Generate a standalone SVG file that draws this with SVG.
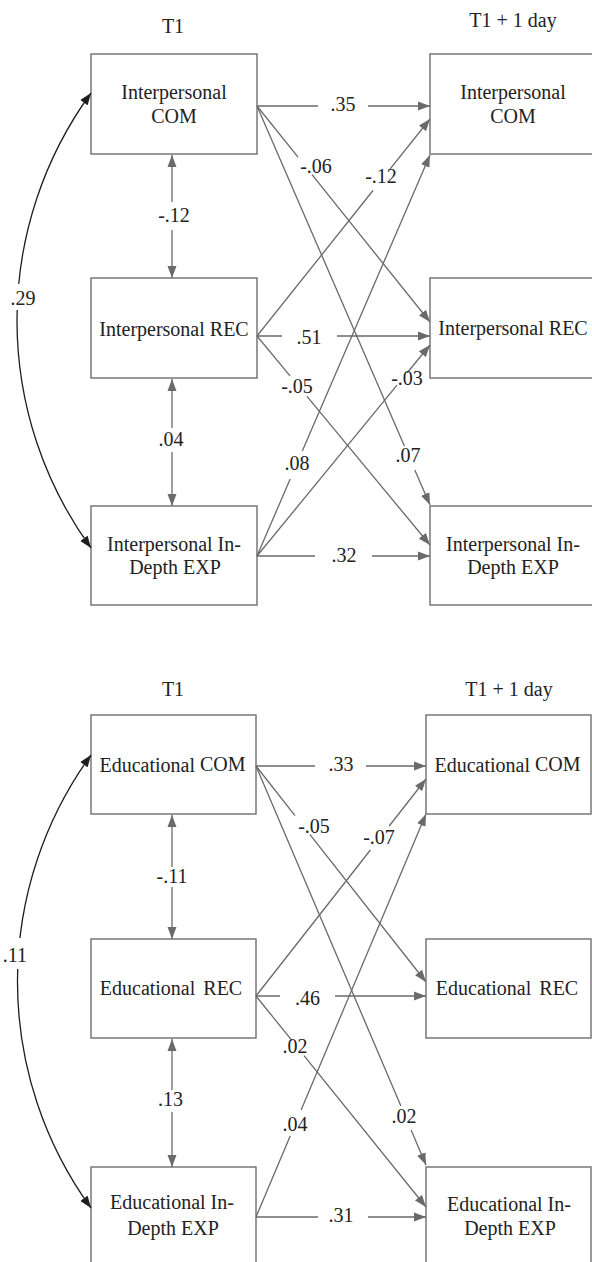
<svg xmlns="http://www.w3.org/2000/svg" width="592" height="1262" viewBox="0 0 592 1262" font-family="'Liberation Serif', 'Times New Roman', 'DejaVu Serif', serif">
<defs>
<style>
text{font-family:'Liberation Serif','Times New Roman','DejaVu Serif',serif;font-size:20px;fill:#222;text-anchor:middle}
.box{fill:#fff;stroke:#6e6e6e;stroke-width:1.4}
.ln{fill:none;stroke:#6a6a6a;stroke-width:1.3;marker-end:url(#ah)}
.dbl{fill:none;stroke:#6a6a6a;stroke-width:1.3;marker-end:url(#ah);marker-start:url(#ahs)}
.cv{fill:none;stroke:#1e1e1e;stroke-width:1.3;marker-end:url(#ahk);marker-start:url(#ahks)}
</style>
<marker id="ah" markerUnits="userSpaceOnUse" markerWidth="12" markerHeight="10" refX="12" refY="5" orient="auto"><path d="M0,0.5 L12,5 L0,9.5 Z" fill="#6a6a6a"/></marker>
<marker id="ahs" markerUnits="userSpaceOnUse" markerWidth="12" markerHeight="10" refX="12" refY="5" orient="auto-start-reverse"><path d="M0,0.5 L12,5 L0,9.5 Z" fill="#6a6a6a"/></marker>
<marker id="ahk" markerUnits="userSpaceOnUse" markerWidth="12" markerHeight="10" refX="12" refY="5" orient="auto"><path d="M0,0.5 L12,5 L0,9.5 Z" fill="#1e1e1e"/></marker>
<marker id="ahks" markerUnits="userSpaceOnUse" markerWidth="12" markerHeight="10" refX="12" refY="5" orient="auto-start-reverse"><path d="M0,0.5 L12,5 L0,9.5 Z" fill="#1e1e1e"/></marker>
</defs>
<rect x="0" y="0" width="592" height="1262" fill="#fff"/>

<g id="titles">
<text x="173" y="33">T1</text>
<text x="513" y="27">T1 + 1 day</text>
<text x="173" y="696">T1</text>
<text x="509" y="696">T1 + 1 day</text>
</g>

<g id="top-t1-com"><rect class="box" x="91" y="54" width="166" height="100"/><text x="174" y="99">Interpersonal</text><text x="174" y="123">COM</text></g>
<g id="top-t1-rec"><rect class="box" x="91" y="278" width="166" height="100"/><text x="174" y="336">Interpersonal REC</text></g>
<g id="top-t1-exp"><rect class="box" x="91" y="506" width="166" height="99"/><text x="174" y="551">Interpersonal In-</text><text x="175" y="574">Depth EXP</text></g>
<g id="top-t2-com"><rect class="box" x="430" y="54" width="166" height="100"/><text x="513" y="99">Interpersonal</text><text x="513" y="123">COM</text></g>
<g id="top-t2-rec"><rect class="box" x="430" y="278" width="166" height="100"/><text x="513" y="335">Interpersonal REC</text></g>
<g id="top-t2-exp"><rect class="box" x="430" y="506" width="166" height="99"/><text x="513" y="551">Interpersonal In-</text><text x="513" y="574">Depth EXP</text></g>

<g id="bot-t1-com"><rect class="box" x="91" y="715" width="165" height="99"/><text x="172.5" y="772">Educational <tspan dy="-1.5">COM</tspan></text></g>
<g id="bot-t1-rec"><rect class="box" x="91" y="939" width="165" height="99"/><text x="171" y="995" word-spacing="3">Educational REC</text></g>
<g id="bot-t1-exp"><rect class="box" x="91" y="1167" width="165" height="100"/><text x="172" y="1209">Educational In-</text><text x="173" y="1235">Depth EXP</text></g>
<g id="bot-t2-com"><rect class="box" x="426" y="715" width="165" height="99"/><text x="507.5" y="772">Educational <tspan dy="-1.5">COM</tspan></text></g>
<g id="bot-t2-rec"><rect class="box" x="426" y="939" width="165" height="99"/><text x="507" y="995" word-spacing="3">Educational REC</text></g>
<g id="bot-t2-exp"><rect class="box" x="426" y="1167" width="165" height="100"/><text x="509" y="1211">Educational In-</text><text x="510" y="1235">Depth EXP</text></g>

<g id="connectors">
<path class="ln" d="M257,106 L318,106 M368,106 L430,106"/>
<path class="ln" d="M257,106 L298,157.2 M312,174.7 L430,322"/>
<path class="ln" d="M257,106 L404.4,446 M414.8,470 L430,505"/>
<path class="ln" d="M257,336 L373,190.5 M390,169.2 L430,119"/>
<path class="ln" d="M257,336 L282,336 M337,336 L430,336"/>
<path class="ln" d="M257,336 L290,375.9 M307,396.4 L430,545"/>
<path class="ln" d="M257,556 L290.2,479 M302.3,451 L430,155"/>
<path class="ln" d="M257,556 L397,385.2 M407,373 L430,345"/>
<path class="ln" d="M257,556 L315,556 M372,556 L430,556"/>
<path class="dbl" d="M172,155 L172,202 M172,230 L172,278"/>
<path class="dbl" d="M172,379 L172,428 M172,452 L172,506"/>
<path class="cv" d="M91,93 A386.7,386.7 0 0 0 91,548"/>
<rect x="4" y="284" width="36" height="26" fill="#fff"/>

<path class="ln" d="M256,766 L315,766 M366,766 L426,766"/>
<path class="ln" d="M256,766 L295,815.6 M310,834.6 L426,982"/>
<path class="ln" d="M256,766 L400.9,1106 M411.1,1130 L426,1165"/>
<path class="ln" d="M256,996 L370.4,850 M389.2,826 L426,779"/>
<path class="ln" d="M256,996 L280,996 M335,996 L426,996"/>
<path class="ln" d="M256,996 L292,1040.7 M304,1055.6 L426,1207"/>
<path class="ln" d="M256,1217 L290.2,1136 M301.1,1110 L426,814"/>
<path class="ln" d="M256,1217 L318,1217 M368,1217 L426,1217"/>
<path class="dbl" d="M172,815 L172,867 M172,887 L172,939"/>
<path class="dbl" d="M172,1039 L172,1090 M172,1112 L172,1167"/>
<path class="cv" d="M91,755 A385.7,385.7 0 0 0 91,1208"/>
<rect x="4" y="938" width="32" height="31" fill="#fff"/>
</g>

<g id="connector-labels">
<text x="343" y="111">.35</text>
<text x="316" y="173">-.06</text>
<text x="381" y="183">-.12</text>
<text x="309" y="344">.51</text>
<text x="297" y="393">-.05</text>
<text x="407" y="385">-.03</text>
<text x="297" y="470">.08</text>
<text x="408" y="462">.07</text>
<text x="344" y="562">.32</text>
<text x="174" y="221.5">-.12</text>
<text x="171" y="446">.04</text>
<text x="23" y="305">.29</text>

<text x="341" y="771">.33</text>
<text x="314" y="833">-.05</text>
<text x="379" y="844">-.07</text>
<text x="307.5" y="1005">.46</text>
<text x="295" y="1053">.02</text>
<text x="295" y="1131">.04</text>
<text x="404" y="1123">.02</text>
<text x="341" y="1222">.31</text>
<text x="172" y="883">-.11</text>
<text x="170.5" y="1106">.13</text>
<text x="15" y="962">.11</text>
</g>
</svg>
